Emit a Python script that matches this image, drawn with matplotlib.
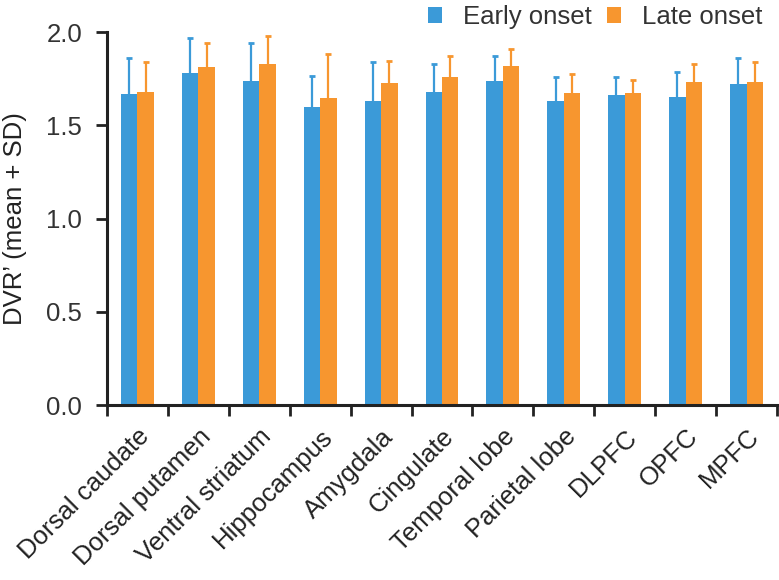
import numpy as np
import matplotlib
matplotlib.use("Agg")
from matplotlib import pyplot as plt

plt.rcParams['font.family'] = ['Liberation Sans', 'DejaVu Sans']

regions = ["Dorsal caudate", "Dorsal putamen", "Ventral striatum", "Hippocampus",
           "Amygdala", "Cingulate", "Temporal lobe", "Parietal lobe", "DLPFC", "OPFC", "MPFC"]

early_mean = [1.67, 1.78, 1.74, 1.60, 1.63, 1.68, 1.74, 1.63, 1.66, 1.65, 1.72]
early_sd = [0.19, 0.19, 0.20, 0.165, 0.21, 0.15, 0.13, 0.13, 0.10, 0.135, 0.14]
late_mean = [1.68, 1.815, 1.83, 1.645, 1.725, 1.76, 1.82, 1.675, 1.675, 1.73, 1.73]
late_sd = [0.16, 0.125, 0.15, 0.235, 0.12, 0.11, 0.09, 0.10, 0.07, 0.10, 0.11]

blue = '#3b9ad8'
orange = '#f7962f'
fs = 18.5

fig = plt.figure(figsize=(7.79, 5.8), dpi=100)
ax = fig.add_axes([0.1374, 0.3017, 0.8600, 0.6431])

x = np.arange(len(regions)) + 0.5
w = 0.27
zeros = np.zeros(len(regions))

b1 = ax.bar(x - w / 2, early_mean, w, color=blue, label="Early onset",
            yerr=[zeros, early_sd], error_kw=dict(ecolor=blue, elinewidth=1.6, capsize=2.5, capthick=2))
b2 = ax.bar(x + w / 2, late_mean, w, color=orange, label="Late onset",
            yerr=[zeros, late_sd], error_kw=dict(ecolor=orange, elinewidth=1.6, capsize=2.5, capthick=2))
# hide the lower caps (only mean + SD is shown)
for bc in (b1, b2):
    bc.errorbar.lines[1][0].set_visible(False)

ax.set_xlim(0, len(regions))
ax.set_ylim(0, 2.0)
ax.set_yticks([0.0, 0.5, 1.0, 1.5, 2.0])
ax.set_yticklabels(["0.0", "0.5", "1.0", "1.5", "2.0"], fontsize=fs, color='#333333')

ax.set_xticks(np.arange(len(regions) + 1))
ax.set_xticklabels([])
ax.set_xticks(x, minor=True)
ax.set_xticklabels(regions, minor=True, rotation=45, ha='right', rotation_mode='anchor',
                   fontsize=fs, color='#222222')
ax.tick_params(axis='x', which='minor', length=0, pad=14)
ax.tick_params(axis='both', which='major', direction='out', length=8, width=2, color='#222222')
ax.tick_params(axis='y', pad=10)

for s in ['top', 'right']:
    ax.spines[s].set_visible(False)
for s in ['left', 'bottom']:
    ax.spines[s].set_linewidth(2.2)
    ax.spines[s].set_color('#222222')

ax.set_ylabel("DVR\u2019 (mean + SD)", fontsize=fs, color='#222222')
ax.yaxis.set_label_coords(-0.12, 0.5)

ax.legend(loc='upper right', bbox_to_anchor=(0.993, 1.1), ncol=2, frameon=False, fontsize=fs,
          handlelength=0.55, handleheight=0.55, handletextpad=0.8, columnspacing=0.6, borderaxespad=0,
          labelcolor='#333333')

fig.savefig("out.png", dpi=100)
